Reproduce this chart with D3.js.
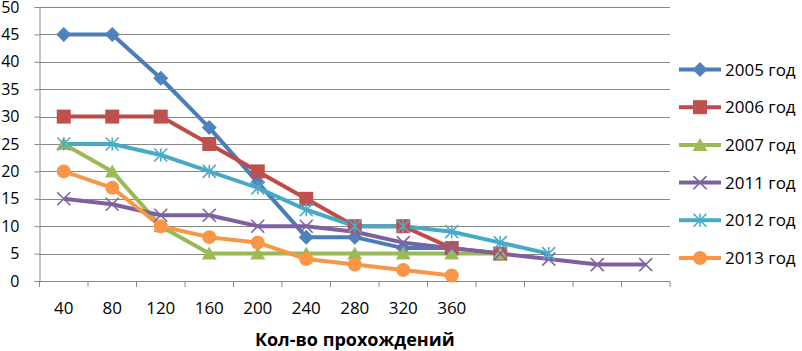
<!DOCTYPE html>
<html>
<head>
<meta charset="utf-8">
<script src="https://cdn.jsdelivr.net/npm/d3@7"></script>
<style>
  body { margin: 0; background: #fff; }
  svg { display: block; font-family: "Open Sans", "Noto Sans", sans-serif; }
</style>
</head>
<body>
<div id="chart-area"></div>
<script>
// Categories (last four have no label in the source)
const categories = ['40', '80', '120', '160', '200', '240', '280', '320', '360', '', '', '', ''];
const yTicks = [0, 5, 10, 15, 20, 25, 30, 35, 40, 45, 50];

// Series values
const names = ['2005 год', '2006 год', '2007 год', '2011 год', '2012 год', '2013 год'];
const v2005 = [45, 45, 37, 28, 18, 8, 8, 6, 6];
const v2006 = [30, 30, 30, 25, 20, 15, 10, 10, 6, 5];
const v2007 = [25, 20, 10, 5, 5, 5, 5, 5, 5, 5];
const v2011 = [15, 14, 12, 12, 10, 10, 9, 7, 6, 5, 4, 3, 3];
const v2012 = [25, 25, 23, 20, 17, 13, 10, 10, 9, 7, 5];
const v2013 = [20, 17, 10, 8, 7, 4, 3, 2, 1];

const series = [v2005, v2006, v2007, v2011, v2012, v2013];
const lineColors = ['#4a7ebb', '#be4b48', '#98b954', '#7d60a0', '#46aac5', '#f79646'];
const markerColors = ['#4f81bd', '#c0504d', '#9bbb59', '#8064a2', '#4bacc6', '#f79646'];
const markers = ['diamond', 'square', 'triangle', 'x', 'star', 'circle'];

const margin = { left: 39.5, right: 132, top: 7, bottom: 70 };
const W = 802, H = 351;
const width = W - margin.left - margin.right;
const height = H - margin.top - margin.bottom;

const svg = d3.select('#chart-area')
    .append('svg')
    .attr('width', W)
    .attr('height', H);

const g = svg.append('g')
    .attr('transform', 'translate(' + margin.left + ', ' + margin.top + ')');

const x = d3.scaleBand()
    .domain(d3.range(categories.length))
    .range([0, width])
    .padding(0);

const y = d3.scaleLinear()
    .domain([0, 50])
    .range([height, 0]);

// Gridlines
g.append('g')
    .selectAll('line')
    .data(yTicks.filter(d => d > 0))
    .enter()
    .append('line')
    .attr('x1', 0)
    .attr('x2', width)
    .attr('y1', d => Math.round(y(d)) + 0.5)
    .attr('y2', d => Math.round(y(d)) + 0.5)
    .attr('stroke', '#888')
    .attr('stroke-width', 1);

// Y axis
const yAxis = g.append('g')
    .call(d3.axisLeft(y).tickValues(yTicks).tickSize(5).tickPadding(6));
yAxis.select('.domain').attr('stroke', '#888');
yAxis.selectAll('.tick line').attr('stroke', '#888');
yAxis.selectAll('.tick text')
    .attr('font-size', '16px')
    .attr('fill', '#000')
    .attr('x', -20)
    .attr('font-family', '"Open Sans", sans-serif');

// X axis, ticks between categories
const xAxis = g.append('g')
    .attr('transform', 'translate(0, ' + height + ')');
xAxis.append('line')
    .attr('x1', 0).attr('x2', width)
    .attr('y1', 0.5).attr('y2', 0.5)
    .attr('stroke', '#888');
xAxis.selectAll('.tk')
    .data(d3.range(categories.length + 1))
    .enter()
    .append('line')
    .attr('x1', d => d === categories.length ? width : x(d))
    .attr('x2', d => d === categories.length ? width : x(d))
    .attr('y1', 0)
    .attr('y2', 6)
    .attr('stroke', '#888');
xAxis.selectAll('text')
    .data(categories)
    .enter()
    .append('text')
    .attr('x', (d, i) => x(i) + x.bandwidth() / 2)
    .attr('y', 33)
    .attr('text-anchor', 'middle')
    .attr('font-size', '17px')
    .text(d => d);

// X label
g.append('text')
    .attr('x', width / 2)
    .attr('y', height + 65)
    .attr('text-anchor', 'middle')
    .attr('font-size', '18px')
    .attr('font-weight', 'bold')
    .text('Кол-во прохождений');

function drawMarker(sel, type, color) {
    const s = 6.5;
    if (type === 'diamond') {
        sel.append('path').attr('d', 'M0,-7.5L7.5,0L0,7.5L-7.5,0Z').attr('fill', color);
    } else if (type === 'square') {
        sel.append('rect').attr('x', -7).attr('y', -7).attr('width', 14).attr('height', 14).attr('fill', color);
    } else if (type === 'triangle') {
        sel.append('path').attr('d', 'M0,-7L7.5,6L-7.5,6Z').attr('fill', color);
    } else if (type === 'circle') {
        sel.append('circle').attr('r', 7).attr('fill', color);
    } else if (type === 'x' || type === 'star') {
        let d = 'M' + -s + ',' + -s + 'L' + s + ',' + s + 'M' + -s + ',' + s + 'L' + s + ',' + -s;
        if (type === 'star') d += 'M0,' + -s + 'L0,' + s;
        sel.append('path').attr('d', d).attr('stroke', color).attr('stroke-width', 1.6).attr('fill', 'none');
    }
}

const line = d3.line()
    .x((d, i) => x(i) + x.bandwidth() / 2)
    .y(d => y(d));

series.forEach((vals, k) => {
    g.append('path')
        .datum(vals)
        .attr('d', line)
        .attr('fill', 'none')
        .attr('stroke', lineColors[k])
        .attr('stroke-width', 4)
        .attr('stroke-linejoin', 'round');
});

series.forEach((vals, k) => {
    vals.forEach((v, i) => {
        const m = g.append('g')
            .attr('transform', 'translate(' + (x(i) + x.bandwidth() / 2) + ',' + y(v) + ')');
        drawMarker(m, markers[k], markerColors[k]);
    });
});

// Legend
const legend = svg.append('g').attr('transform', 'translate(679, 69.5)');
names.forEach((n, k) => {
    const lg = legend.append('g').attr('transform', 'translate(0,' + (k * 37.7) + ')');
    lg.append('line')
        .attr('x1', 0).attr('x2', 42)
        .attr('y1', 0).attr('y2', 0)
        .attr('stroke', lineColors[k])
        .attr('stroke-width', 4);
    const m = lg.append('g').attr('transform', 'translate(21,0)');
    drawMarker(m, markers[k], markerColors[k]);
    lg.append('text')
        .attr('x', 46)
        .attr('y', 6)
        .attr('font-size', '17px')
        .text(n);
});
</script>
</body>
</html>
